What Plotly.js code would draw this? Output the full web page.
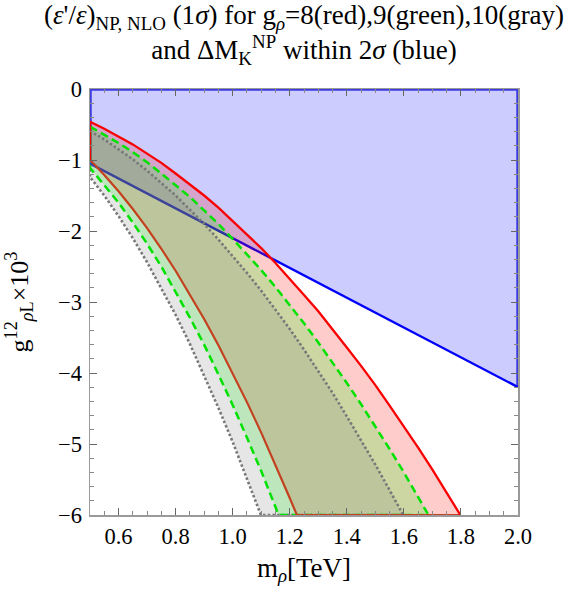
<!DOCTYPE html>
<html>
<head>
<meta charset="utf-8">
<script src="https://cdn.plot.ly/plotly-3.0.1.min.js"></script>
<style>html,body{margin:0;padding:0;background:#fff;}#chart{width:582px;height:594px;}</style>
</head>
<body>
<div id="chart"></div>
<script>
// ---- data ----
// blue: Delta M_K within 2 sigma, allowed region above this line
const mBlue = [0.5, 2.0];
const gBlue = [-1.05, -4.20];
const gTop = 0;     // upper edge of the blue region

// red band (g_rho = 8)
const mRedUpper = [0.5, 0.55, 0.6, 0.65, 0.7, 0.75, 0.8, 0.85, 0.9, 0.95, 1.0, 1.05, 1.1, 1.15, 1.2, 1.25, 1.3, 1.35, 1.4, 1.45, 1.5, 1.55, 1.6, 1.65, 1.7, 1.75, 1.798];
const gRedUpper = [-0.46, -0.56, -0.67, -0.78, -0.91, -1.04, -1.19, -1.34, -1.50, -1.67, -1.86, -2.05, -2.24, -2.45, -2.67, -2.90, -3.13, -3.38, -3.64, -3.90, -4.17, -4.46, -4.75, -5.05, -5.36, -5.68, -6.00];
const mRedLower = [0.5, 0.55, 0.6, 0.65, 0.7, 0.75, 0.8, 0.85, 0.9, 0.95, 1.0, 1.05, 1.1, 1.15, 1.2, 1.225];
const gRedLower = [-1.00, -1.21, -1.44, -1.69, -1.96, -2.25, -2.56, -2.89, -3.24, -3.61, -4.00, -4.41, -4.84, -5.29, -5.76, -6.00];

// green band (g_rho = 9)
const mGreenUpper = [0.5, 0.55, 0.6, 0.65, 0.7, 0.75, 0.8, 0.85, 0.9, 0.95, 1.0, 1.05, 1.1, 1.15, 1.2, 1.25, 1.3, 1.35, 1.4, 1.45, 1.5, 1.55, 1.6, 1.65, 1.686];
const gGreenUpper = [-0.53, -0.64, -0.76, -0.89, -1.03, -1.19, -1.35, -1.52, -1.71, -1.90, -2.11, -2.33, -2.55, -2.79, -3.04, -3.30, -3.57, -3.85, -4.14, -4.44, -4.75, -5.07, -5.40, -5.74, -6.00];
const mGreenLower = [0.5, 0.55, 0.6, 0.65, 0.7, 0.75, 0.8, 0.85, 0.9, 0.95, 1.0, 1.05, 1.1, 1.15, 1.161];
const gGreenLower = [-1.11, -1.35, -1.60, -1.88, -2.18, -2.50, -2.85, -3.22, -3.60, -4.02, -4.45, -4.91, -5.38, -5.89, -6.00];

// gray band (g_rho = 10)
const mGrayUpper = [0.5, 0.55, 0.6, 0.65, 0.7, 0.75, 0.8, 0.85, 0.9, 0.95, 1.0, 1.05, 1.1, 1.15, 1.2, 1.25, 1.3, 1.35, 1.4, 1.45, 1.5, 1.55, 1.598];
const gGrayUpper = [-0.59, -0.71, -0.85, -0.99, -1.15, -1.32, -1.50, -1.70, -1.90, -2.12, -2.35, -2.59, -2.84, -3.11, -3.38, -3.67, -3.97, -4.28, -4.61, -4.94, -5.29, -5.65, -6.00];
const mGrayLower = [0.5, 0.55, 0.6, 0.65, 0.7, 0.75, 0.8, 0.85, 0.9, 0.95, 1.0, 1.05, 1.099];
const gGrayLower = [-1.24, -1.50, -1.79, -2.10, -2.44, -2.80, -3.18, -3.59, -4.03, -4.49, -4.97, -5.48, -6.00];

const xTickVals = [0.6, 0.8, 1.0, 1.2, 1.4, 1.6, 1.8, 2.0];
const yTickVals = [0, -1, -2, -3, -4, -5, -6];

// ---- helpers ----
function band(mU, gU, mL, gL) {
  return { x: mU.concat(mL.slice().reverse()), y: gU.concat(gL.slice().reverse()) };
}
function closed(p) {
  return { x: p.x.concat([p.x[0]]), y: p.y.concat([p.y[0]]) };
}
const FONT = 'Liberation Serif';

const redP = band(mRedUpper, gRedUpper, mRedLower, gRedLower);
const greenP = band(mGreenUpper, gGreenUpper, mGreenLower, gGreenLower);
const grayP = band(mGrayUpper, gGrayUpper, mGrayLower, gGrayLower);
const nB = mBlue.length - 1;

const traces = [];
// blue region
traces.push({
  x: mBlue.concat([mBlue[nB], mBlue[0]]),
  y: gBlue.concat([gTop, gTop]),
  fill: 'toself', fillcolor: 'rgba(0,0,255,0.2)', mode: 'lines', line: {width: 0}, hoverinfo: 'skip'
});
traces.push({
  x: [mBlue[nB], mBlue[nB], mBlue[0], mBlue[0]],
  y: [gBlue[nB], gTop, gTop, gBlue[0]],
  mode: 'lines', line: {color: 'rgb(60,60,225)', width: 3.5}, hoverinfo: 'skip'
});
traces.push({
  x: mBlue, y: gBlue, mode: 'lines', line: {color: 'rgb(0,0,250)', width: 2.4}, hoverinfo: 'skip'
});
// band fills
traces.push({x: redP.x, y: redP.y, fill: 'toself', fillcolor: 'rgba(255,0,0,0.2)', mode: 'lines', line: {width: 0}, hoverinfo: 'skip'});
traces.push({x: greenP.x, y: greenP.y, fill: 'toself', fillcolor: 'rgba(0,255,0,0.2)', mode: 'lines', line: {width: 0}, hoverinfo: 'skip'});
traces.push({x: grayP.x, y: grayP.y, fill: 'toself', fillcolor: 'rgba(128,128,128,0.2)', mode: 'lines', line: {width: 0}, hoverinfo: 'skip'});
// band outlines
const grayC = closed(grayP);
traces.push({x: grayC.x, y: grayC.y, mode: 'lines', line: {color: 'rgb(120,120,120)', width: 2.6, dash: '2.5px,2.2px'}, hoverinfo: 'skip'});
const greenC = closed(greenP);
traces.push({x: greenC.x, y: greenC.y, mode: 'lines', line: {color: 'rgb(0,225,0)', width: 2.5, dash: '8px,4.5px'}, hoverinfo: 'skip'});
const nRU = mRedUpper.length - 1;
traces.push({
  x: mRedLower.concat([mRedUpper[nRU]]),
  y: gRedLower.concat([gRedUpper[nRU]]),
  mode: 'lines', line: {color: 'rgb(195,65,30)', width: 2.2}, hoverinfo: 'skip'
});
traces.push({
  x: [mRedLower[0]].concat(mRedUpper),
  y: [gRedLower[0]].concat(gRedUpper),
  mode: 'lines', line: {color: 'rgb(250,0,0)', width: 2.3}, hoverinfo: 'skip'
});

const axisCommon = {
  showgrid: false, zeroline: false, showline: true, linecolor: '#9a9a9a', linewidth: 1.5,
  mirror: 'ticks', ticks: 'inside', ticklen: 7, tickwidth: 1, tickcolor: '#666',
  tickfont: {family: FONT, size: 22.5, color: '#000'}
};

const layout = {
  width: 582, height: 594,
  margin: {l: 90, r: 64, t: 89, b: 79},
  paper_bgcolor: '#fff', plot_bgcolor: '#fff',
  showlegend: false,
  font: {family: FONT, color: '#000'},
  title: {
    text: '(<i>ε</i>\'/<i>ε</i>)<sub>NP, NLO</sub> (1<i>σ</i>) for g<sub><i>ρ</i></sub>=8(red),9(green),10(gray)<br>and ΔM<sub>K</sub><sup>NP</sup> within 2<i>σ</i> (blue)',
    font: {family: FONT, size: 27, color: '#000'},
    x: 0.5, xref: 'paper', xanchor: 'center',
    y: 1 - 24 / 594, yref: 'container', yanchor: 'top'
  },
  xaxis: Object.assign({}, axisCommon, {
    range: [0.5, 2.0], tickvals: xTickVals, tickformat: '.1f',
    minor: {dtick: 0.05, tick0: 0.5, ticks: 'inside', ticklen: 4, tickcolor: '#888', tickwidth: 1},
    ticklabelstandoff: 0,
    title: {text: 'm<sub><i>ρ</i></sub>[TeV]', font: {family: FONT, size: 27, color: '#000'}, standoff: 10}
  }),
  yaxis: Object.assign({}, axisCommon, {
    range: [-6, 0], tickvals: yTickVals,
    minor: {dtick: 0.2, tick0: 0, ticks: 'inside', ticklen: 4, tickcolor: '#888', tickwidth: 1},
    ticklabelstandoff: 2,
    title: {text: 'g<sup>12</sup><sub><i>ρ</i>L</sub>×10<sup>3</sup>', font: {family: FONT, size: 26, color: '#000'}, standoff: 22}
  })
};

Plotly.newPlot('chart', traces, layout, {staticPlot: true, displayModeBar: false});
</script>
</body>
</html>
